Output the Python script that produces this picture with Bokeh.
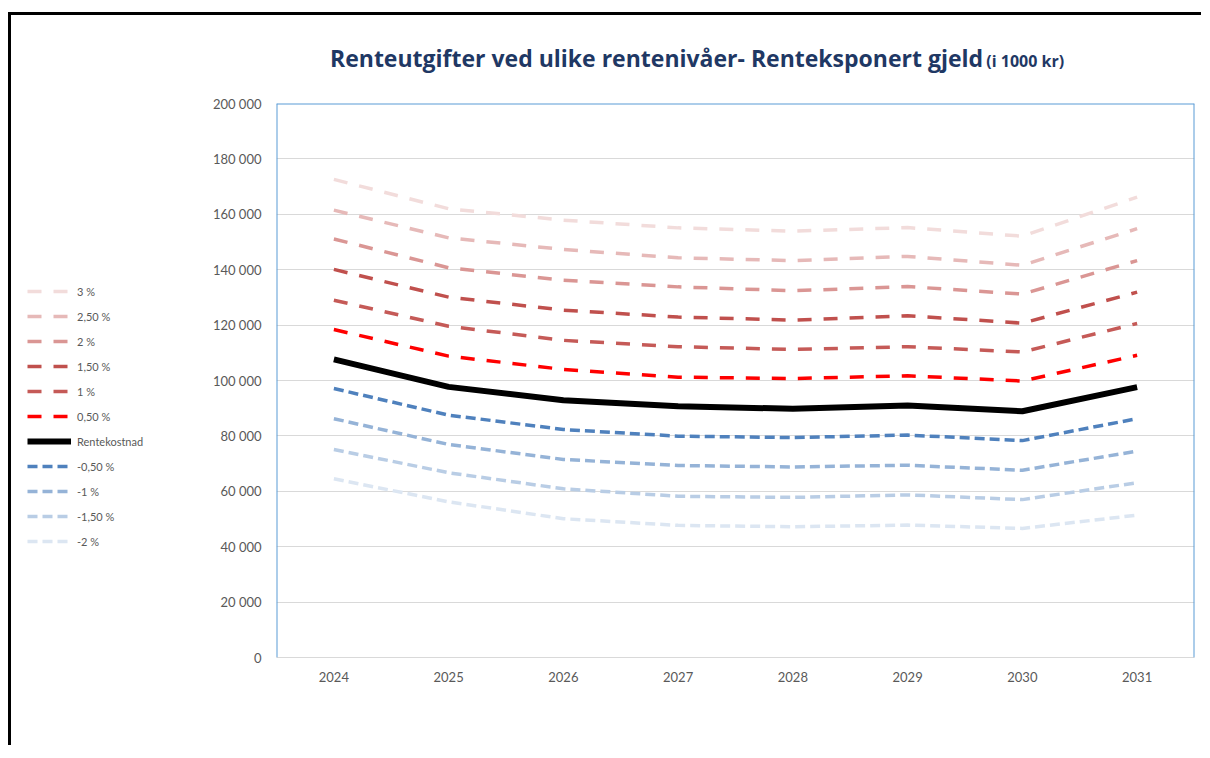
from bokeh.plotting import figure
from bokeh.models import FactorRange, Range1d, FixedTicker, Legend, LegendItem, Span, Div
from bokeh.layouts import column, row
from bokeh.embed import file_html
from bokeh.resources import INLINE

years = ["2024", "2025", "2026", "2027", "2028", "2029", "2030", "2031"]

p3 = [172600, 162000, 157900, 155100, 153900, 155200, 152100, 166200]
p25 = [161500, 151500, 147300, 144300, 143300, 144800, 141600, 154800]
p2 = [151100, 140700, 136200, 133800, 132400, 133900, 131200, 143300]
p15 = [140100, 130100, 125400, 122900, 121800, 123400, 120700, 131900]
p1 = [129000, 119600, 114500, 112200, 111200, 112200, 110300, 120600]
p05 = [118400, 108800, 104000, 101200, 100700, 101700, 99800, 109100]
rentekostnad = [107600, 97700, 92900, 90700, 89800, 91000, 88900, 97600]
m05 = [97100, 87500, 82300, 79900, 79400, 80300, 78300, 86200]
m1 = [86200, 76900, 71500, 69300, 68800, 69400, 67600, 74500]
m15 = [75100, 66700, 60900, 58200, 57800, 58700, 57000, 63100]
m2 = [64500, 56200, 50100, 47700, 47200, 47800, 46600, 51400]

series_names = ["3 %", "2,50 %", "2 %", "1,50 %", "1 %", "0,50 %", "Rentekostnad",
                "-0,50 %", "-1 %", "-1,50 %", "-2 %"]
series_values = [p3, p25, p2, p15, p1, p05, rentekostnad, m05, m1, m15, m2]
series_colors = ["#F2DCDB", "#E6B9B8", "#DA9694", "#C0504D", "#C55A57", "#FF0000", "#000000",
                 "#4F81BD", "#95B3D7", "#B9CDE5", "#DCE6F2"]

y_ticks = [0, 20000, 40000, 60000, 80000, 100000, 120000, 140000, 160000, 180000, 200000]
y_labels = ["0", "20 000", "40 000", "60 000", "80 000", "100 000", "120 000", "140 000",
            "160 000", "180 000", "200 000"]

title_main = "Renteutgifter ved ulike rentenivåer- Renteksponert gjeld"
title_sub = "(i 1000 kr)"


def style_kwargs(i, name, col):
    if name == "Rentekostnad":
        return dict(line_color=col, line_width=6, line_join="round")
    if i < 6:
        return dict(line_color=col, line_width=3.5, line_dash="14 12")
    return dict(line_color=col, line_width=3.5, line_dash="10 5")


title_div = Div(
    text=('<div style="padding-left:319px; padding-top:32px; line-height:22px; '
          'white-space:nowrap; color:#1F3864; font-family:\'Open Sans\'; font-weight:bold;">'
          f'<span style="font-size:23px;">{title_main}</span> '
          f'<span style="font-size:16px;">{title_sub}</span></div>'),
    width=1190, height=60, margin=0)

# main chart
p = figure(width=1000, height=670,
           x_range=FactorRange(*years), y_range=Range1d(0, 200000),
           output_backend="svg", toolbar_location=None,
           min_border_left=75, min_border_right=7, min_border_top=28, min_border_bottom=88,
           background_fill_color="white", border_fill_color="white", margin=0)
p.outline_line_color = None

p.xgrid.grid_line_color = None
p.ygrid.grid_line_color = "#D9D9D9"
p.ygrid.grid_line_width = 1

p.yaxis.ticker = FixedTicker(ticks=y_ticks)
p.yaxis.major_label_overrides = {t: l for t, l in zip(y_ticks, y_labels)}
p.yaxis.axis_line_color = None
p.yaxis.major_tick_line_color = None
p.yaxis.minor_tick_line_color = None
p.yaxis.major_tick_out = 0
p.yaxis.major_tick_in = 0
p.yaxis.major_label_standoff = 15
p.yaxis.major_label_text_font = "Lato"
p.yaxis.major_label_text_font_size = "13px"
p.yaxis.major_label_text_color = "#595959"

p.xaxis.axis_line_color = "#D9D9D9"
p.xaxis.axis_line_width = 1
p.xaxis.major_tick_line_color = None
p.xaxis.minor_tick_line_color = None
p.xaxis.major_tick_out = 0
p.xaxis.major_tick_in = 0
p.xaxis.major_label_standoff = 14
p.xaxis.major_label_text_font = "Lato"
p.xaxis.major_label_text_font_size = "13px"
p.xaxis.major_label_text_color = "#595959"

for i, (name, vals, col) in enumerate(zip(series_names, series_values, series_colors)):
    p.line(years, vals, **style_kwargs(i, name, col))

for loc in [0, 8]:
    p.add_layout(Span(location=loc, dimension="height", line_color="#5B9BD5", line_width=2))
p.add_layout(Span(location=200000, dimension="width", line_color="#5B9BD5", line_width=2))

# legend panel (separate plot area holding the legend)
pl = figure(width=190, height=670, x_range=FactorRange(*years), y_range=Range1d(0, 200000),
            output_backend="svg", toolbar_location=None,
            x_axis_location=None, y_axis_location=None,
            min_border_left=0, min_border_right=0, min_border_top=0, min_border_bottom=0,
            background_fill_color="white", border_fill_color="white", margin=0)
pl.outline_line_color = None
pl.xgrid.visible = False
pl.ygrid.visible = False

items = []
for i, (name, vals, col) in enumerate(zip(series_names, series_values, series_colors)):
    r = pl.line(years, vals, visible=False, **style_kwargs(i, name, col))
    items.append(LegendItem(label=name, renderers=[r]))

legend = Legend(items=items, location=(16, 106), orientation="vertical",
                background_fill_alpha=0, border_line_color=None, padding=0, margin=0,
                spacing=5, glyph_width=44, glyph_height=20, label_height=20,
                label_standoff=6, label_text_font_size="11px",
                label_text_color="#595959", label_text_font="Lato",
                inactive_fill_alpha=0)
pl.add_layout(legend)

layout = column(title_div, row(pl, p, spacing=0, margin=0), spacing=0,
                styles={"border-top": "3px solid #000", "border-left": "3px solid #000",
                        "margin-top": "12px", "margin-left": "8px"})

open("out.html", "w").write(file_html(layout, INLINE))
